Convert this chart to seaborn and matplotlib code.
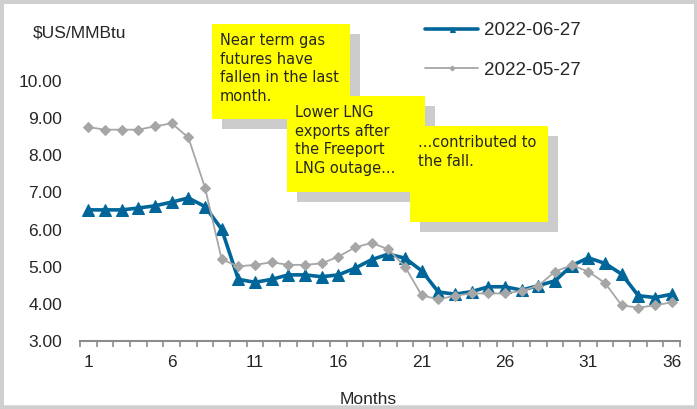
import pandas as pd
import matplotlib.pyplot as plt
import seaborn as sns
from matplotlib.patches import Rectangle
from matplotlib.ticker import MultipleLocator, FixedLocator

sns.set_style('white')
plt.rcParams['font.family'] = ['Liberation Sans', 'DejaVu Sans']

months = list(range(1, 37))
jun_27 = [6.53, 6.53, 6.53, 6.58, 6.64, 6.74, 6.85, 6.62, 6.01, 4.66, 4.58, 4.66,
          4.78, 4.78, 4.73, 4.78, 4.96, 5.19, 5.34, 5.23, 4.89, 4.32, 4.26, 4.33,
          4.46, 4.46, 4.37, 4.49, 4.62, 5.03, 5.24, 5.09, 4.80, 4.22, 4.17, 4.26]
may_27 = [8.76, 8.69, 8.69, 8.69, 8.78, 8.86, 8.48, 7.13, 5.20, 5.01, 5.05, 5.12,
          5.05, 5.05, 5.09, 5.27, 5.52, 5.64, 5.47, 5.00, 4.23, 4.12, 4.22, 4.28,
          4.28, 4.28, 4.35, 4.49, 4.87, 5.04, 4.87, 4.56, 3.96, 3.90, 3.96, 4.04]
tick_labels = [1, 6, 11, 16, 21, 26, 31, 36]

notes = [
    "Near term gas\nfutures have\nfallen in the last\nmonth.",
    "Lower LNG\nexports after\nthe Freeport\nLNG outage...",
    "...contributed to\nthe fall.",
]

df = pd.DataFrame({'month': months, 'jun': jun_27, 'may': may_27})

W, H = 697, 409
fig = plt.figure(figsize=(6.97, 4.09), dpi=100)
ax = fig.add_axes([80 / W, 1 - 341 / H, 600 / W, 260 / H])

blue = '#00669A'
grey = '#A6A6A6'
sns.lineplot(data=df, x='month', y='jun', ax=ax, color=blue, linewidth=2.6,
             marker='^', markersize=8, markeredgecolor=blue, label='2022-06-27')
sns.lineplot(data=df, x='month', y='may', ax=ax, color=grey, linewidth=1.3,
             marker='D', markersize=5.5, markeredgecolor=grey, label='2022-05-27')

ax.set_xlim(0.5, 36.5)
ax.set_ylim(3, 10)
ax.set_xlabel('')
ax.set_ylabel('')
for s in ['top', 'right', 'left']:
    ax.spines[s].set_visible(False)
ax.spines['bottom'].set_color('#8C8C8C')
ax.spines['bottom'].set_linewidth(1.5)

ax.xaxis.set_major_locator(FixedLocator(tick_labels))
ax.xaxis.set_minor_locator(FixedLocator([m + 0.5 for m in range(0, 37)]))
ax.tick_params(axis='x', which='major', length=0, pad=10, labelsize=12.5)
ax.tick_params(axis='x', which='minor', length=4, width=1.2, color='#8C8C8C',
               direction='out', bottom=True)
ax.yaxis.set_major_locator(MultipleLocator(1))
ax.yaxis.set_major_formatter(lambda v, p: f'{v:.2f}')
ax.tick_params(axis='y', length=0, pad=13, labelsize=12.5)

ax.legend(loc='upper left', bbox_to_anchor=(425 / W, 1 - 22 / H),
          bbox_transform=fig.transFigure, frameon=False, fontsize=13.5,
          markerscale=0.45, handlelength=2.85, handletextpad=0.3,
          labelspacing=1.2, borderpad=0, borderaxespad=0)

fig.text(33 / W, 1 - 33 / H, '$US/MMBtu', fontsize=12.5, va='center', ha='left')
fig.text(368 / W, 1 - 400 / H, 'Months', fontsize=12.5, va='center', ha='center')

# callout boxes: (left, top, right, bottom) in pixels, text origin
boxes = [
    ((212, 24, 350, 119), (220, 33)),
    ((287, 96, 425, 192), (295, 105)),
    ((410, 126, 548, 222), (418, 135)),
]
for i, ((l, t, r, b), (tx, ty)) in enumerate(boxes):
    z = 10 + 3 * i
    fig.patches.append(Rectangle(((l + 10) / W, 1 - (b + 10) / H), (r - l) / W, (b - t) / H,
                                 transform=fig.transFigure, facecolor='#CCCCCC',
                                 edgecolor='none', zorder=z))
    fig.patches.append(Rectangle((l / W, 1 - b / H), (r - l) / W, (b - t) / H,
                                 transform=fig.transFigure, facecolor='#FFFF00',
                                 edgecolor='none', zorder=z + 1))
    fig.text(tx / W, 1 - ty / H, notes[i], fontsize=10.5, va='top', ha='left',
             family=['DejaVu Sans'], linespacing=1.3, zorder=z + 2)

fig.patches.append(Rectangle((0, 0), 1, 1, transform=fig.transFigure, facecolor='none',
                             edgecolor='#CFCFCF', linewidth=5, zorder=50))
fig.patches.append(Rectangle((0, 0), 1, 4 / H, transform=fig.transFigure,
                             facecolor='#DCDCDC', edgecolor='none', zorder=49))

fig.savefig('out.png', dpi=100)
